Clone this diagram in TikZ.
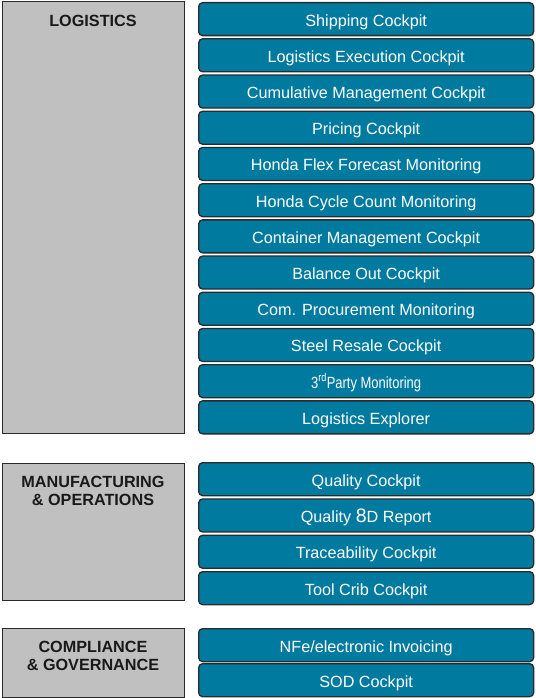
\documentclass[tikz,border=0pt]{standalone}
\usepackage{fontspec}
\setmainfont{Liberation Sans}
\definecolor{catgray}{HTML}{C0C0C0}
\definecolor{itemblue}{HTML}{007B9F}
\definecolor{edgedark}{HTML}{2A2A2A}
\begin{document}
\begin{tikzpicture}[x=1pt,y=-1pt,
  catbox/.style={draw=edgedark, fill=catgray, line width=1.3pt, anchor=north west, inner sep=0pt, minimum width=182pt},
  cattext/.style={font=\bfseries\fontsize{16.2}{17.5}\selectfont, text=black!90, align=center, inner sep=0pt, anchor=north},
  itembox/.style={draw=edgedark, fill=itemblue, line width=1.3pt, rounded corners=4pt, anchor=north west, inner sep=0pt, minimum width=335pt, minimum height=33pt, text=white, text height=15pt, text depth=1pt, font=\fontsize{16.2}{18}\selectfont}]
\useasboundingbox (0,0) rectangle (535,698);
% category boxes
\node[catbox, minimum height=432pt] (logbox) at (2,1) {};
\node[cattext] (logtxt) at (93,14.5) {LOGISTICS};
\node[catbox, minimum height=137pt] (manbox) at (2,463) {};
\node[cattext] (mantxt) at (93,476) {MANUFACTURING\\\& OPERATIONS};
\node[catbox, minimum height=69pt] (combox) at (2,628) {};
\node[cattext] (comtxt) at (93,641) {COMPLIANCE\\\& GOVERNANCE};
% logistics items
\node[itembox] (l1) at (198,2) {Shipping Cockpit};
\node[itembox] (l2) at (198,38.2) {Logistics Execution Cockpit};
\node[itembox] (l3) at (198,74.4) {Cumulative Management Cockpit};
\node[itembox] (l4) at (198,110.6) {Pricing Cockpit};
\node[itembox] (l5) at (198,146.8) {Honda Flex Forecast Monitoring};
\node[itembox] (l6) at (198,183) {Honda Cycle Count Monitoring};
\node[itembox] (l7) at (198,219.2) {Container Management Cockpit};
\node[itembox] (l8) at (198,255.4) {Balance Out Cockpit};
\node[itembox] (l9) at (198,291.6) {Com. Procurement Monitoring};
\node[itembox] (l10) at (198,327.8) {Steel Resale Cockpit};
\node[itembox] (l11) at (198,364) {\scalebox{0.8}[1]{3\textsuperscript{rd}Party Monitoring}};
\node[itembox] (l12) at (198,400.2) {Logistics Explorer};
% manufacturing items
\node[itembox] (m1) at (198,462) {Quality Cockpit};
\node[itembox] (m2) at (198,498.3) {Quality {\fontsize{19.5}{20}\selectfont 8}D Report};
\node[itembox] (m3) at (198,534.6) {Traceability Cockpit};
\node[itembox] (m4) at (198,571) {Tool Crib Cockpit};
% compliance items
\node[itembox] (c1) at (198,628) {NFe/electronic Invoicing};
\node[itembox] (c2) at (198,663) {SOD Cockpit};
\end{tikzpicture}
\end{document}
